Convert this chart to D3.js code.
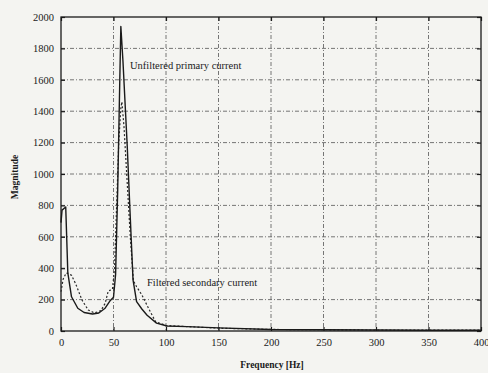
<!DOCTYPE html>
<html>
<head>
<meta charset="utf-8">
<script src="https://cdn.jsdelivr.net/npm/d3@7"></script>
<style>
  html, body { margin: 0; padding: 0; background: #f4f4f1; }
  svg { display: block; }
  text { font-family: "Liberation Serif", "Times New Roman", serif; fill: #1a1a1a; }
</style>
</head>
<body>
<div id="chart"></div>
<script>
// ── data ─────────────────────────────────────────────────────
const xTicks = [0, 50, 100, 150, 200, 250, 300, 350, 400];
const yTicks = [0, 200, 400, 600, 800, 1000, 1200, 1400, 1600, 1800, 2000];

// unfiltered primary current (solid)
const primaryFreq = [0, 1, 4.5, 6.5, 10, 16, 22, 30, 36, 42, 47, 50, 52, 54, 56, 57, 59, 63, 66, 68.6, 72, 77, 82, 91, 101, 120, 150, 200, 250, 300, 350, 400];
const primaryMag  = [690, 770, 790, 370, 218, 145, 118, 108, 115, 145, 195, 215, 360, 900, 1600, 1940, 1720, 1190, 720, 325, 187, 140, 100, 50, 32, 28, 20, 10, 8, 6, 5, 5];

// filtered secondary current (dashed)
const secondaryFreq = [0, 2, 5, 10, 14, 20, 26, 32, 38, 42, 45, 49, 51, 53, 55, 57, 58, 60, 63, 66, 69, 72, 77, 85, 90, 100, 120, 150, 200, 300, 400];
const secondaryMag  = [250, 330, 370, 355, 300, 197, 133, 115, 130, 175, 255, 265, 400, 800, 1200, 1420, 1460, 1300, 950, 600, 320, 282, 230, 123, 60, 35, 28, 18, 10, 6, 5];

// ── layout ───────────────────────────────────────────────────
const W = 488, H = 373;
const plot = { left: 61, right: 481, top: 17, bottom: 331 };

const svg = d3.select("#chart").append("svg").attr("width", W).attr("height", H);

const x = d3.scaleLinear().domain([0, 400]).range([plot.left, plot.right]);
const y = d3.scaleLinear().domain([0, 2000]).range([plot.bottom, plot.top]);

// ── grid ─────────────────────────────────────────────────────
const grid = svg.append("g").attr("stroke", "#666").attr("stroke-width", 0.9)
    .attr("stroke-dasharray", "4,2,1,2");
grid.selectAll(".gx").data(xTicks.slice(1, -1)).enter().append("line")
    .attr("x1", d => x(d)).attr("x2", d => x(d))
    .attr("y1", plot.top).attr("y2", plot.bottom);
grid.selectAll(".gy").data(yTicks.slice(1, -1)).enter().append("line")
    .attr("x1", plot.left).attr("x2", plot.right)
    .attr("y1", d => y(d)).attr("y2", d => y(d));

// ── axes (ticks inward, on all four sides) ───────────────────
const styleAxis = g => {
    g.select(".domain").remove();
    g.selectAll(".tick line").attr("stroke", "#1a1a1a").attr("stroke-width", 1.2);
    g.selectAll(".tick text").attr("font-size", 10.5).attr("fill", "#1a1a1a")
        .style("font-family", "'Liberation Serif', serif");
};
const fmt = d3.format("d");

svg.append("g").attr("transform", `translate(0,${plot.bottom})`)
    .call(d3.axisBottom(x).tickValues(xTicks).tickFormat(fmt).tickSize(-4).tickPadding(8))
    .call(styleAxis);
svg.append("g").attr("transform", `translate(${plot.left},0)`)
    .call(d3.axisLeft(y).tickValues(yTicks).tickFormat(fmt).tickSize(-4).tickPadding(7))
    .call(styleAxis);
svg.append("g").attr("transform", `translate(0,${plot.top})`)
    .call(d3.axisTop(x).tickValues(xTicks).tickSize(-4).tickFormat(""))
    .call(styleAxis);
svg.append("g").attr("transform", `translate(${plot.right},0)`)
    .call(d3.axisRight(y).tickValues(yTicks).tickSize(-4).tickFormat(""))
    .call(styleAxis);

svg.append("rect")
    .attr("x", plot.left).attr("y", plot.top)
    .attr("width", plot.right - plot.left).attr("height", plot.bottom - plot.top)
    .attr("fill", "none").attr("stroke", "#1a1a1a").attr("stroke-width", 1.3);

// ── series ───────────────────────────────────────────────────
const line = d3.line().x(d => x(d[0])).y(d => y(d[1]));

svg.append("path")
    .datum(d3.zip(secondaryFreq, secondaryMag))
    .attr("d", line)
    .attr("fill", "none").attr("stroke", "#2a2a2a").attr("stroke-width", 1.2)
    .attr("stroke-dasharray", "2,2");

svg.append("path")
    .datum(d3.zip(primaryFreq, primaryMag))
    .attr("d", line)
    .attr("fill", "none").attr("stroke", "#1a1a1a").attr("stroke-width", 1.4)
    .attr("stroke-linejoin", "round");

// ── annotations ──────────────────────────────────────────────
svg.append("text").attr("x", 130).attr("y", 69).attr("font-size", 10.5)
    .text("Unfiltered primary current");
svg.append("text").attr("x", 147).attr("y", 286).attr("font-size", 10.5)
    .text("Filtered secondary current");

// ── axis labels ──────────────────────────────────────────────
svg.append("text")
    .attr("transform", "translate(18,177) rotate(-90)")
    .attr("text-anchor", "middle").attr("font-size", 9.5).attr("font-weight", "bold")
    .text("Magnitude");
svg.append("text")
    .attr("x", 272).attr("y", 368)
    .attr("text-anchor", "middle").attr("font-size", 9.5).attr("font-weight", "bold")
    .text("Frequency [Hz]");
</script>
</body>
</html>
